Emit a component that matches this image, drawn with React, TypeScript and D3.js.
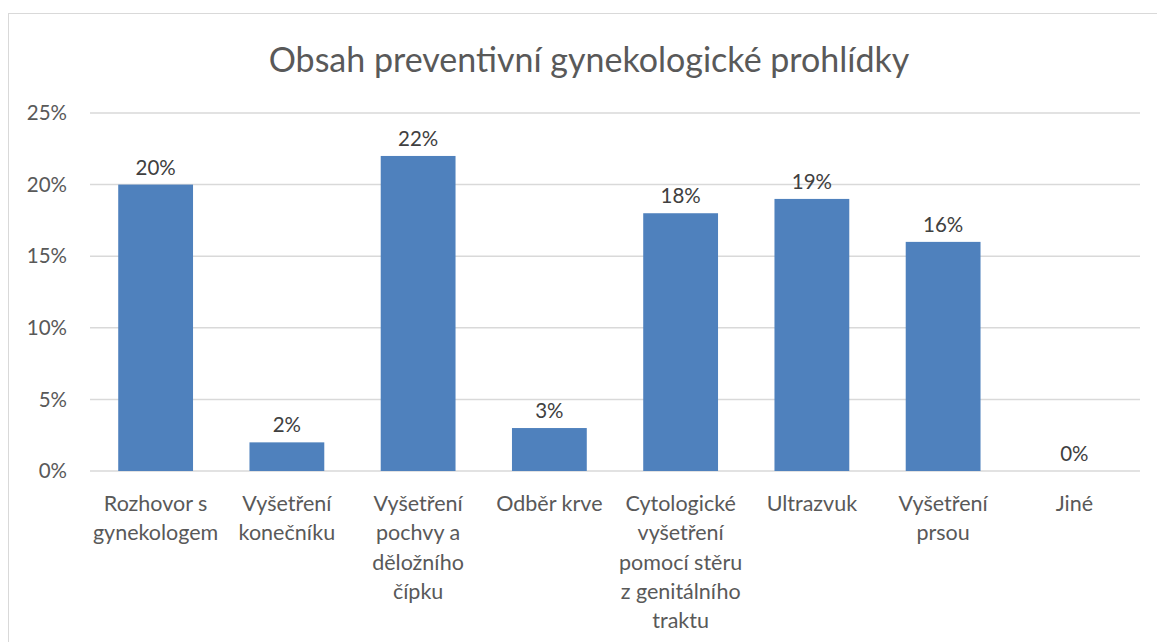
import React from "react";
import * as d3 from "d3";

const title = "Obsah preventivní gynekologické prohlídky";
const categories: string[][] = [
  ["Rozhovor s", "gynekologem"],
  ["Vyšetření", "konečníku"],
  ["Vyšetření", "pochvy a", "děložního", "čípku"],
  ["Odběr krve"],
  ["Cytologické", "vyšetření", "pomocí stěru", "z genitálního", "traktu"],
  ["Ultrazvuk"],
  ["Vyšetření", "prsou"],
  ["Jiné"],
];
const values = [20, 2, 22, 3, 18, 19, 16, 0];
const yTicks = [0, 5, 10, 15, 20, 25];

const W = 1157;
const H = 642;
const FONT = "Lato, 'Open Sans', sans-serif";

export default function App() {
  const left = 90;
  const right = 1140;
  const top = 113;
  const bottom = 471;
  const x = d3
    .scaleBand<number>()
    .domain(d3.range(categories.length))
    .range([left, right])
    .paddingInner(0.43)
    .paddingOuter(0.215);
  const y = d3.scaleLinear().domain([0, 25]).range([bottom, top]);
  const step = x.step();

  return (
    <svg
      width={W}
      height={H}
      style={{ position: "absolute", left: 0, top: 0, background: "#fff" }}
    >
      <rect x={8.5} y={13.5} width={1170} height={660} fill="#fff" stroke="#d9d9d9" strokeWidth={1} />
      <text x={589} y={72} textAnchor="middle" fontFamily={FONT} fontSize={34} fill="#595959">
        {title}
      </text>
      {yTicks.map((t) => (
        <g key={t}>
          <line x1={left} x2={right} y1={y(t)} y2={y(t)} stroke="#d9d9d9" strokeWidth={1.5} />
          <text
            x={67}
            y={y(t)}
            dy="0.35em"
            textAnchor="end"
            fontFamily={FONT}
            fontSize={20.5}
            fill="#595959"
          >
            {t}%
          </text>
        </g>
      ))}
      {values.map((v, i) => (
        <g key={i}>
          {v > 0 && (
            <rect x={x(i)} y={y(v)} width={x.bandwidth()} height={y(0) - y(v)} fill="#4f81bd" />
          )}
          <text
            x={(x(i) as number) + x.bandwidth() / 2}
            y={y(v) - 10}
            textAnchor="middle"
            fontFamily={FONT}
            fontSize={20.5}
            fill="#404040"
          >
            {v}%
          </text>
          {categories[i].map((line, j) => (
            <text
              key={j}
              x={left + step * i + step / 2}
              y={511 + j * 29.3}
              textAnchor="middle"
              fontFamily={FONT}
              fontSize={21.5}
              fill="#595959"
            >
              {line}
            </text>
          ))}
        </g>
      ))}
    </svg>
  );
}
